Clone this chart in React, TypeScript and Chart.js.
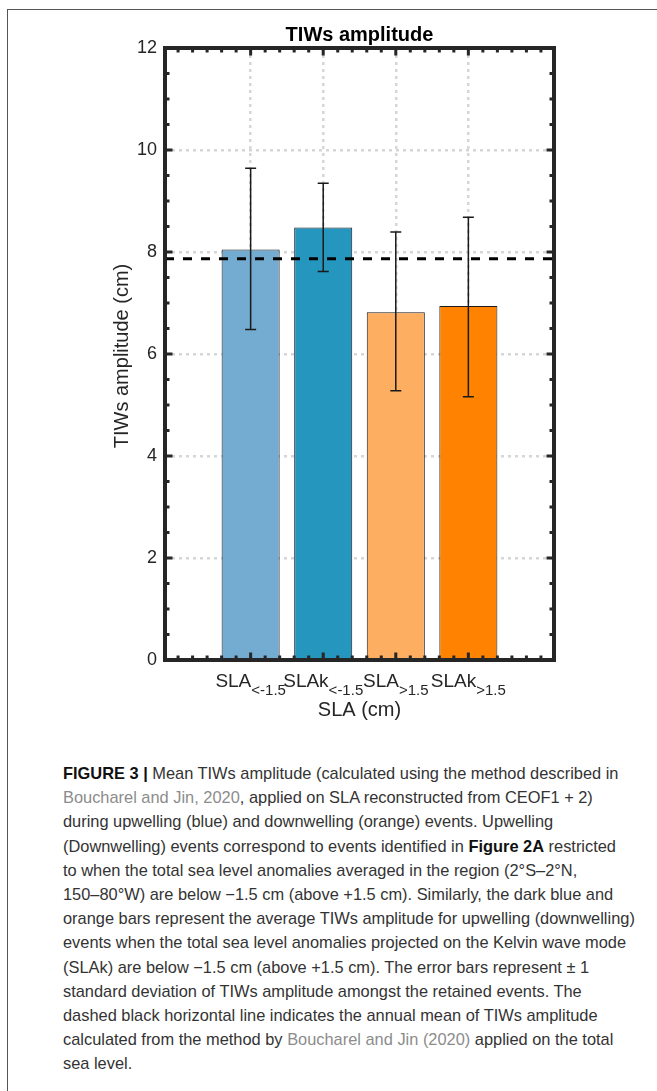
import React, { useEffect, useRef } from "react";
import { Chart, registerables } from "chart.js";

Chart.register(...registerables);

// ---- data ----
const categories = [1, 2, 3, 4];
const labelMain = ["SLA", "SLAk", "SLA", "SLAk"];
const labelSub = ["<-1.5", "<-1.5", ">1.5", ">1.5"];
const meanAmp = [8.05, 8.48, 6.82, 6.94];
const errLow = [6.48, 7.62, 5.28, 5.16];
const errHigh = [9.64, 9.35, 8.39, 8.68];
const barColors = ["#74abd1", "#2596be", "#fdae61", "#ff8300"];
const annualMean = 7.87;
const xLimits = [-0.18, 5.18];
const yLimits = [0, 12];
const yTickValues = [0, 2, 4, 6, 8, 10, 12];
const chartTitle = "TIWs amplitude";
const xTitle = "SLA (cm)";
const yTitle = "TIWs amplitude (cm)";

const FONT = '"Liberation Sans", Arial, Helvetica, sans-serif';
const AXIS_COLOR = "#262626";

const matlabPlugin = {
  id: "matlabAxes",
  afterDatasetsDraw(chart: any) {
    const ctx = chart.ctx;
    const xs = chart.scales.x;
    const ys = chart.scales.y;
    const { left, right, top, bottom } = chart.chartArea;
    ctx.save();

    // error bars
    ctx.strokeStyle = "#1a1a1a";
    ctx.lineWidth = 1.5;
    categories.forEach((c, i) => {
      const px = xs.getPixelForValue(c);
      const y1 = ys.getPixelForValue(errLow[i]);
      const y2 = ys.getPixelForValue(errHigh[i]);
      ctx.beginPath();
      ctx.moveTo(px, y1);
      ctx.lineTo(px, y2);
      ctx.moveTo(px - 5.5, y1);
      ctx.lineTo(px + 5.5, y1);
      ctx.moveTo(px - 5.5, y2);
      ctx.lineTo(px + 5.5, y2);
      ctx.stroke();
    });

    // ticks (inward) on all sides
    ctx.strokeStyle = AXIS_COLOR;
    ctx.lineWidth = 3;
    const minorX: number[] = [];
    for (let k = -5; k <= 30; k++) {
      const v = k * 0.2;
      if (v > xLimits[0] + 0.05 && v < xLimits[1] - 0.05) minorX.push(v);
    }
    minorX.forEach((v) => {
      const px = xs.getPixelForValue(v);
      const major = categories.some((c) => Math.abs(c - v) < 1e-6);
      const len = major ? 7.5 : 4.5;
      ctx.beginPath();
      ctx.moveTo(px, bottom);
      ctx.lineTo(px, bottom - len);
      ctx.moveTo(px, top);
      ctx.lineTo(px, top + len);
      ctx.stroke();
    });
    for (let k = 1; k < 24; k++) {
      const v = k * 0.5;
      const py = ys.getPixelForValue(v);
      const major = Math.abs(v % 2) < 1e-6;
      const len = major ? 7.5 : 4.5;
      ctx.beginPath();
      ctx.moveTo(left, py);
      ctx.lineTo(left + len, py);
      ctx.moveTo(right, py);
      ctx.lineTo(right - len, py);
      ctx.stroke();
    }

    // box
    ctx.lineWidth = 4;
    ctx.strokeRect(left, top, right - left, bottom - top);

    // x tick labels with subscripts
    ctx.fillStyle = AXIS_COLOR;
    ctx.textBaseline = "alphabetic";
    ctx.textAlign = "left";
    categories.forEach((c, i) => {
      const px = xs.getPixelForValue(c);
      ctx.font = `19px ${FONT}`;
      const w1 = ctx.measureText(labelMain[i]).width;
      ctx.font = `15px ${FONT}`;
      const w2 = ctx.measureText(labelSub[i]).width;
      const x0 = px - (w1 + w2) / 2;
      ctx.font = `19px ${FONT}`;
      ctx.fillText(labelMain[i], x0, bottom + 27);
      ctx.font = `15px ${FONT}`;
      ctx.fillText(labelSub[i], x0 + w1, bottom + 35);
    });

    // x title
    ctx.textAlign = "center";
    ctx.font = `20px ${FONT}`;
    ctx.fillText(xTitle, (left + right) / 2, bottom + 56);

    // chart title
    ctx.fillStyle = "#000";
    ctx.font = `bold 20px ${FONT}`;
    ctx.fillText(chartTitle, (left + right) / 2, top - 7);

    // y title
    ctx.fillStyle = AXIS_COLOR;
    ctx.translate(122, (top + bottom) / 2 + 2);
    ctx.rotate(-Math.PI / 2);
    ctx.textBaseline = "middle";
    ctx.font = `20px ${FONT}`;
    ctx.fillText(yTitle, 0, 0);

    ctx.restore();
  },
};

function TIWChart() {
  const ref = useRef<HTMLCanvasElement | null>(null);
  useEffect(() => {
    if (!ref.current) return;
    const chart = new Chart(ref.current, {
      type: "bar",
      data: {
        datasets: [
          {
            type: "line",
            data: [
              { x: xLimits[0], y: annualMean },
              { x: xLimits[1], y: annualMean },
            ],
            borderColor: "#000",
            borderWidth: 3,
            borderDash: [9, 9],
            pointRadius: 0,
            order: 0,
          } as any,
          {
            type: "bar",
            data: categories.map((c, i) => ({ x: c, y: meanAmp[i] })),
            backgroundColor: barColors,
            borderColor: "#1a1a1a",
            borderWidth: 1,
            categoryPercentage: 1,
            barPercentage: 0.8,
            order: 1,
          } as any,
        ],
      },
      options: {
        responsive: false,
        animation: false,
        layout: { padding: { left: 0, top: 48, right: 103, bottom: 0 } },
        plugins: {
          legend: { display: false },
          title: { display: false },
          tooltip: { enabled: false },
        },
        scales: {
          x: {
            type: "linear",
            min: xLimits[0],
            max: xLimits[1],
            offset: false,
            afterBuildTicks: (scale: any) => {
              scale.ticks = categories.map((v) => ({ value: v }));
            },
            afterFit: (scale: any) => {
              scale.height = 80;
            },
            ticks: { display: false },
            grid: {
              color: "#d6d6d6",
              lineWidth: 2.5,
              drawTicks: false,
              offset: false,
            },
            border: { display: false, dash: [3, 4] },
          },
          y: {
            type: "linear",
            min: yLimits[0],
            max: yLimits[1],
            afterBuildTicks: (scale: any) => {
              scale.ticks = yTickValues.map((v) => ({ value: v }));
            },
            afterFit: (scale: any) => {
              scale.width = 165;
            },
            ticks: {
              padding: 8,
              color: AXIS_COLOR,
              font: { family: FONT, size: 18 },
              callback: (v: any) => String(v),
            },
            grid: {
              color: "#d6d6d6",
              lineWidth: 2.5,
              drawTicks: false,
            },
            border: { display: false, dash: [3, 4] },
          },
        },
      } as any,
      plugins: [matlabPlugin],
    });
    return () => chart.destroy();
  }, []);
  return (
    <canvas
      ref={ref}
      width={657}
      height={740}
      style={{ position: "absolute", left: 0, top: 0, width: 657, height: 740 }}
    />
  );
}

const linkStyle: React.CSSProperties = { color: "#8c8c8c" };

const captionLines: React.ReactNode[] = [
  <>
    <b style={{ color: "#111" }}>FIGURE 3 |</b> Mean TIWs amplitude (calculated using the method described in
  </>,
  <>
    <span style={linkStyle}>Boucharel and Jin, 2020</span>, applied on SLA reconstructed from CEOF1 + 2)
  </>,
  <>during upwelling (blue) and downwelling (orange) events. Upwelling</>,
  <>
    (Downwelling) events correspond to events identified in <b style={{ color: "#111" }}>Figure 2A</b> restricted
  </>,
  <>to when the total sea level anomalies averaged in the region (2°S–2°N,</>,
  <>150–80°W) are below −1.5 cm (above +1.5 cm). Similarly, the dark blue and</>,
  <>orange bars represent the average TIWs amplitude for upwelling (downwelling)</>,
  <>events when the total sea level anomalies projected on the Kelvin wave mode</>,
  <>(SLAk) are below −1.5 cm (above +1.5 cm). The error bars represent ± 1</>,
  <>standard deviation of TIWs amplitude amongst the retained events. The</>,
  <>dashed black horizontal line indicates the annual mean of TIWs amplitude</>,
  <>
    calculated from the method by <span style={linkStyle}>Boucharel and Jin (2020)</span> applied on the total
  </>,
  <>sea level.</>,
];

export default function App() {
  return (
    <div
      style={{
        position: "absolute",
        left: 0,
        top: 0,
        width: 657,
        height: 1091,
        background: "#fff",
        overflow: "hidden",
      }}
    >
      <div
        style={{
          position: "absolute",
          left: 7,
          top: 9,
          width: 660,
          height: 1100,
          borderTop: "1.5px solid #555",
          borderLeft: "1.5px solid #555",
        }}
      />
      <TIWChart />
      <div
        style={{
          position: "absolute",
          left: 63,
          top: 761,
          fontFamily: FONT,
          fontSize: 16.4,
          lineHeight: "24.2px",
          color: "#333",
          whiteSpace: "nowrap",
        }}
      >
        {captionLines.map((l, i) => (
          <div key={i}>{l}</div>
        ))}
      </div>
    </div>
  );
}
